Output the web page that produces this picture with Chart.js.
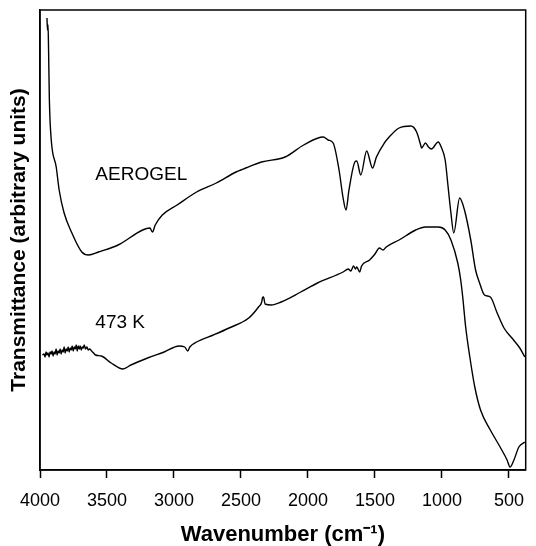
<!DOCTYPE html>
<html>
<head>
<meta charset="utf-8">
<script src="https://cdn.jsdelivr.net/npm/chart.js@4"></script>
<style>
html,body{margin:0;padding:0;background:#fff;}
#wrap{width:536px;height:546px;}
</style>
</head>
<body>
<div id="wrap"><canvas id="c" width="536" height="546"></canvas></div>
<script>
// Wavenumber ticks (cm-1)
const xTicks = [4000, 3500, 3000, 2500, 2000, 1500, 1000, 500];

// AEROGEL spectrum
const aerogelWn = [3948,3944,3940,3936,3930,3916,3879,3857,3820,3762,3688,3637,3564,3417,3234,3180,3161,3140,3087,2977,2831,2684,2537,2500,2464,2347,2171,2032,1885,1850,1812,1768,1739,1716,1694,1650,1636,1606,1562,1518,1489,1430,1394,1320,1232,1189,1159,1152,1123,1101,1079,1028,1006,976,954,933,912,868,832,785,749,719,683,639,588,537,478,419,382];
const aerogelT  = [452,440,445,420,370,330,303,280,257,237,218,215,218,225,240,242,238,245,255,265,278,287,298,300,302,308,313,325,333,330,327,300,273,260,280,308,309,295,319,302,313,327,333,342,344,338,325,322,327,323,321,328,323,310,283,257,237,272,260,230,200,187,175,173,157,142,132,122,113];

// 473 K spectrum
const k473Wn = [3982,3970,3962,3955,3948,3940,3932,3925,3917,3910,3902,3895,3887,3880,3872,3865,3857,3850,3842,3835,3827,3820,3812,3805,3797,3790,3782,3775,3767,3760,3752,3745,3737,3730,3722,3715,3707,3700,3692,3685,3677,3670,3660,3650,3640,3630,3615,3600,3586,3542,3469,3381,3322,3197,3073,2963,2920,2897,2882,2831,2706,2589,2442,2369,2345,2340,2332,2320,2274,2200,2054,1929,1738,1700,1680,1660,1645,1636,1614,1600,1540,1500,1467,1440,1416,1320,1196,1123,1028,976,933,882,860,845,823,792,755,712,639,566,514,492,463,426,382];
const k473T  = [115,116,113,118,115,117,113,118,116,119,114,118,116,121,115,119,117,121,116,120,118,123,117,121,119,123,118,122,120,124,119,123,121,125,119,124,121,124,120,123,122,125,121,123,120,121,119,117,115,114,107,101,105,112,118,124,123,119,123,128,135,142,152,163,168,172,173,166,165,168,178,187,198,201,199,204,201,203,198,204,210,216,222,220,223,230,240,243,243,240,230,207,190,173,143,113,83,60,40,23,10,3,10,23,28];

const seriesNames = ['AEROGEL', '473 K'];

const toPts = (xs, ys) => xs.map((x, i) => ({x: x, y: ys[i]}));

const FONT = "'Liberation Sans', Arial, sans-serif";

const framePlugin = {
  id: 'frame',
  afterDraw(chart) {
    const {ctx, chartArea: a, scales} = chart;
    ctx.save();
    ctx.strokeStyle = '#000';
    ctx.lineWidth = 1.5;
    ctx.strokeRect(a.left, a.top, a.right - a.left, a.bottom - a.top);
    // curve labels
    ctx.fillStyle = '#000';
    ctx.font = '19px ' + FONT;
    ctx.textBaseline = 'middle';
    ctx.textAlign = 'left';
    ctx.fillText(seriesNames[0], scales.x.getPixelForValue(3587), scales.y.getPixelForValue(295));
    ctx.fillText(seriesNames[1], scales.x.getPixelForValue(3587), scales.y.getPixelForValue(147));
    ctx.restore();
  }
};

const lineStyle = {borderColor: '#000', borderWidth: 1.4, pointRadius: 0, cubicInterpolationMode: 'monotone', fill: false};

new Chart(document.getElementById('c'), {
  type: 'line',
  data: {
    datasets: [
      Object.assign({label: seriesNames[0], data: toPts(aerogelWn, aerogelT)}, lineStyle),
      Object.assign({label: seriesNames[1], data: toPts(k473Wn, k473T)}, lineStyle)
    ]
  },
  options: {
    responsive: false,
    animation: false,
    devicePixelRatio: 1,
    layout: {padding: {left: 0, right: 1, top: 10, bottom: 0}},
    plugins: {legend: {display: false}, tooltip: {enabled: false}},
    scales: {
      x: {
        type: 'linear',
        reverse: true,
        min: 375,
        max: 4000,
        afterBuildTicks(s) { s.ticks = xTicks.map(v => ({value: v})); },
        afterFit(s) { s.height = 76; },
        ticks: {color: '#000', font: {family: FONT, size: 18}, padding: 12, maxRotation: 0, autoSkip: false, callback: v => String(v)},
        grid: {display: true, drawOnChartArea: false, drawTicks: true, tickLength: 8, tickWidth: 1.5, color: '#000'},
        border: {display: true, color: '#000', width: 1.5},
        title: {display: true, text: 'Wavenumber (cm⁻¹)', color: '#000', font: {family: FONT, size: 22, weight: 'bold', lineHeight: 1}, padding: {top: 0, bottom: 0}}
      },
      y: {
        type: 'linear',
        min: 0,
        max: 460,
        afterFit(s) { s.width = 40; },
        ticks: {display: false},
        grid: {display: false},
        border: {display: true, color: '#000', width: 1.5},
        title: {display: true, text: 'Transmittance (arbitrary units)', color: '#000', font: {family: FONT, size: 21, weight: 'bold', lineHeight: 1.2}, padding: {top: 7, bottom: 0}}
      }
    }
  },
  plugins: [framePlugin]
});
</script>
</body>
</html>
